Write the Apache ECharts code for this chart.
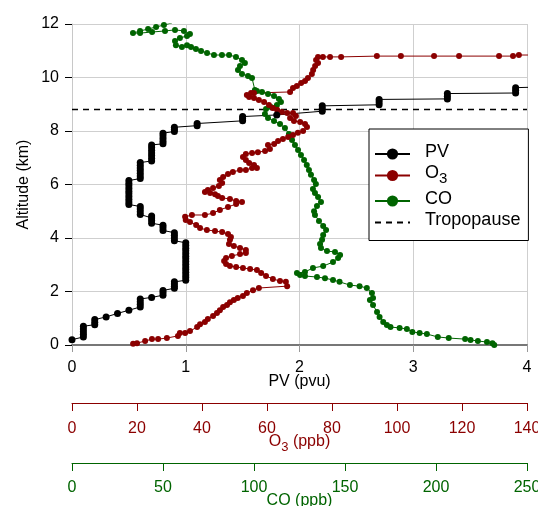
<!DOCTYPE html>
<html>
<head>
<meta charset="utf-8">
<script src="https://cdn.jsdelivr.net/npm/echarts@6/dist/echarts.min.js"></script>
<style>
  html, body { margin: 0; padding: 0; background: #fff; }
  #chart { width: 538px; height: 506px; }
</style>
</head>
<body>
<div id="chart"></div>
<script>
// [value, altitude km]
const pvProfile = [
  [0, 0.2],
  [0.1, 0.3], [0.1, 0.4], [0.1, 0.5], [0.1, 0.6], [0.1, 0.7],
  [0.2, 0.76], [0.2, 0.85], [0.2, 0.95],
  [0.3, 1.05],
  [0.4, 1.18],
  [0.5, 1.3],
  [0.6, 1.42], [0.6, 1.52], [0.6, 1.62], [0.6, 1.72],
  [0.7, 1.78],
  [0.8, 1.86], [0.8, 1.95], [0.8, 2.04],
  [0.9, 2.12], [0.9, 2.2], [0.9, 2.28], [0.9, 2.36],
  [1.0, 2.42], [1.0, 2.52], [1.0, 2.62], [1.0, 2.72], [1.0, 2.82], [1.0, 2.92], [1.0, 3.02],
  [1.0, 3.12], [1.0, 3.22], [1.0, 3.32], [1.0, 3.42], [1.0, 3.52], [1.0, 3.62], [1.0, 3.72], [1.0, 3.82],
  [0.9, 3.9], [0.9, 4.0], [0.9, 4.1], [0.9, 4.2],
  [0.8, 4.28], [0.8, 4.38], [0.8, 4.48],
  [0.7, 4.55], [0.7, 4.65], [0.7, 4.75], [0.7, 4.82],
  [0.6, 4.88], [0.6, 4.98], [0.6, 5.08], [0.6, 5.18],
  [0.5, 5.25], [0.5, 5.35], [0.5, 5.45], [0.5, 5.55], [0.5, 5.65], [0.5, 5.75], [0.5, 5.85], [0.5, 5.95], [0.5, 6.05], [0.5, 6.15],
  [0.6, 6.22], [0.6, 6.32], [0.6, 6.42], [0.6, 6.52], [0.6, 6.62], [0.6, 6.72], [0.6, 6.82],
  [0.7, 6.88], [0.7, 6.98], [0.7, 7.08], [0.7, 7.18], [0.7, 7.28], [0.7, 7.38], [0.7, 7.48],
  [0.8, 7.52], [0.8, 7.62], [0.8, 7.72], [0.8, 7.82], [0.8, 7.92],
  [0.9, 7.98], [0.9, 8.06], [0.9, 8.14],
  [1.1, 8.2], [1.1, 8.28],
  [1.5, 8.38], [1.5, 8.46], [1.5, 8.54],
  [1.8, 8.6],
  [2.2, 8.74], [2.2, 8.84], [2.2, 8.94],
  [2.7, 8.98], [2.7, 9.08], [2.7, 9.18],
  [3.3, 9.2], [3.3, 9.3], [3.3, 9.4],
  [3.9, 9.42], [3.9, 9.52], [3.9, 9.62],
  [4.6, 9.7]
];

const o3Profile = [
  [18.8, 0.05], [20, 0.07], [22.5, 0.15], [24.6, 0.22], [26.5, 0.22], [29.2, 0.26],
  [32.6, 0.34], [33.2, 0.45], [34.8, 0.45], [36.3, 0.52], [38.5, 0.67], [39.4, 0.78],
  [40.9, 0.86], [41.8, 0.97], [43.4, 1.08], [44.6, 1.2], [45.5, 1.3], [46.5, 1.42],
  [47.7, 1.5], [48.6, 1.6], [49.8, 1.68], [51, 1.76], [52.6, 1.83], [53.8, 1.94],
  [55.7, 2.05], [57.5, 2.13], [66.2, 2.2], [65.8, 2.36], [64, 2.39], [61.8, 2.47],
  [59.7, 2.58], [58.2, 2.69], [56.9, 2.8], [54.8, 2.84], [52.6, 2.88], [50.5, 2.92],
  [48.6, 2.95], [47.4, 3.03], [46.8, 3.14], [47.4, 3.25], [49.2, 3.33], [51.7, 3.4],
  [53.5, 3.44], [53.5, 3.55], [51.7, 3.63], [49.8, 3.7], [48.3, 3.78], [48.6, 3.93],
  [48.9, 4.04], [48, 4.15], [46.2, 4.22], [44, 4.26], [41.5, 4.3], [39.4, 4.37],
  [38.2, 4.49], [36.3, 4.6], [35, 4.67], [34.8, 4.79], [36.9, 4.86], [40.9, 4.86],
  [43.4, 4.93], [45.5, 5.05], [48, 5.16], [50.5, 5.27], [52.3, 5.35], [50.5, 5.38],
  [48.6, 5.46], [46.2, 5.5], [44.9, 5.57], [44, 5.64], [42.5, 5.68], [40.9, 5.72],
  [41.8, 5.79], [43.4, 5.87], [45.2, 5.94], [46.2, 6.06], [45.5, 6.17], [46.5, 6.28],
  [48, 6.39], [49.5, 6.47], [51.7, 6.54], [53.5, 6.54], [55.4, 6.62], [56.9, 6.62],
  [56, 6.73], [54.5, 6.8], [53.5, 6.92], [52.6, 7.03], [53.5, 7.14], [55.4, 7.18],
  [57.2, 7.21], [59.4, 7.25], [60.9, 7.33], [60.3, 7.48], [62.2, 7.51], [63.4, 7.63],
  [64.9, 7.7], [66.5, 7.78], [68, 7.85], [69.5, 7.93], [71.1, 8.0], [72.3, 8.15],
  [71.7, 8.26], [70.2, 8.34], [68.3, 8.37], [67.1, 8.49], [68.9, 8.56], [68, 8.67],
  [66.2, 8.67], [64.6, 8.71], [63.1, 8.79], [61.8, 8.86], [60.6, 8.97], [59.1, 9.08],
  [57.5, 9.16], [56, 9.23], [54.5, 9.27], [53.8, 9.35], [55.1, 9.42], [56, 9.42],
  [67.1, 9.46], [68, 9.61], [69.2, 9.68], [70.5, 9.79], [71.7, 9.87], [72.6, 9.98],
  [73.8, 10.13], [74.2, 10.28], [74.8, 10.43], [75.7, 10.54], [75.1, 10.65], [75.7, 10.77],
  [77.2, 10.77], [79.4, 10.77], [82.8, 10.77], [93.8, 10.8], [101.2, 10.8], [111.4, 10.8],
  [119.1, 10.8], [131.4, 10.8], [135.7, 10.8], [137.5, 10.84], [140.3, 10.84], [150, 10.88]
];

const coProfile = [
  [232, 0.0], [231, 0.07], [228, 0.11], [223, 0.15], [219, 0.19], [216, 0.22],
  [207, 0.26], [201, 0.3], [195, 0.41], [191, 0.45], [187, 0.49], [184, 0.6],
  [180, 0.64], [175, 0.67], [173, 0.75], [171, 0.86], [169, 1.05], [167.6, 1.23],
  [165.4, 1.5], [163.7, 1.68], [165.4, 1.76], [164.8, 1.94], [162, 2.13], [158, 2.2],
  [152.7, 2.24], [147, 2.36], [143.4, 2.43], [139, 2.5], [134.6, 2.54], [128, 2.58],
  [125.3, 2.62], [123.6, 2.69], [128, 2.73], [132.4, 2.88], [138, 2.95], [143.4, 3.1],
  [146.2, 3.25], [147.3, 3.36], [144.5, 3.48], [140.1, 3.51], [136.8, 3.63], [136.3, 3.78],
  [137.4, 3.93], [138, 4.11], [139.6, 4.3], [138, 4.45], [135.7, 4.64], [133.5, 4.86],
  [133, 5.0], [134.6, 5.2], [136.8, 5.35], [135.2, 5.53], [133.5, 5.68], [132.4, 5.83],
  [134, 6.02], [133, 6.17], [131.3, 6.36], [130.2, 6.54], [129, 6.73], [127.5, 6.92],
  [125.8, 7.1], [124.2, 7.29], [122.5, 7.48], [120.9, 7.66], [119.2, 7.89], [117, 8.11],
  [114.3, 8.26], [111, 8.37], [107.7, 8.49], [106, 8.64], [106.6, 8.82], [109.3, 8.9],
  [112.6, 8.97], [114.8, 9.08], [113.7, 9.2], [111, 9.31], [107.7, 9.38], [104.4, 9.46],
  [101.6, 9.5], [100.5, 9.53], [98.9, 9.98], [96.7, 10.06], [93.4, 10.13], [91.2, 10.28],
  [92.3, 10.43], [95, 10.54], [93.4, 10.65], [90.1, 10.77], [86.3, 10.84], [82.4, 10.84],
  [78, 10.84], [74.2, 10.92], [70.9, 10.99], [68.1, 11.07], [65.4, 11.14], [63.2, 11.21],
  [60.4, 11.14], [57.1, 11.21], [56.6, 11.36], [59.3, 11.48], [63.2, 11.55], [64.8, 11.63],
  [61.5, 11.74], [56.6, 11.78], [51.1, 11.74], [44, 11.7], [37.4, 11.66], [33.5, 11.66],
  [37.4, 11.74], [41.8, 11.81], [46.2, 11.89], [50.5, 11.96], [54.9, 12.04], [48.4, 12.07]
];

const tropopauseAlt = 8.8;
const pvTicks = [0, 4, 1];      // min, max, step
const o3Ticks = [0, 140, 20];
const coTicks = [0, 250, 50];
const altTicks = [0, 12, 2];

const RED = '#8b0000';
const GREEN = '#006400';
const FONT = 'Liberation Sans, Arial, sans-serif';

const chart = echarts.init(document.getElementById('chart'));

// O3 with a real subscript 3
function subRich(color, size) {
  return {
    a: { fontSize: size, color: color, fontFamily: FONT, lineHeight: size + 4, verticalAlign: 'top' },
    b: { fontSize: size - 3, color: color, fontFamily: FONT, lineHeight: size - 2, padding: [7, 0, 0, 0], verticalAlign: 'bottom' }
  };
}

const option = {
  animation: false,
  textStyle: { fontFamily: FONT },
  grid: { left: 72, right: 11, top: 24, bottom: 161, containLabel: false, outerBoundsMode: 'none' },
  legend: {
    orient: 'vertical',
    left: 369,
    top: 129,
    padding: [14, 8, 11, 5],
    itemWidth: 35,
    itemHeight: 14,
    itemGap: 3.5,
    borderColor: '#000',
    borderWidth: 1,
    borderRadius: 0,
    backgroundColor: '#fff',
    data: ['PV', 'O3', 'CO', { name: 'Tropopause', itemStyle: { opacity: 0 } }],
    formatter: function (name) {
      if (name === 'O3') return '{a|O}{b|3}';
      return '{a|' + name + '}';
    },
    textStyle: {
      fontSize: 18,
      color: '#000',
      padding: [0, 0, 0, 10],
      rich: subRich('#000', 18)
    }
  },
  xAxis: [
    {
      type: 'value', position: 'bottom',
      min: pvTicks[0], max: pvTicks[1], interval: pvTicks[2],
      name: 'PV (pvu)', nameLocation: 'middle', nameGap: 29, nameMoveOverlap: false,
      nameTextStyle: { fontSize: 16, color: '#000' },
      axisLine: { show: true, lineStyle: { color: '#777', width: 2 } },
      axisTick: { show: true, length: 7, lineStyle: { color: '#999' } },
      axisLabel: { fontSize: 16, color: '#000', margin: 15 },
      splitLine: { show: true, lineStyle: { color: '#cfcfcf', width: 1 } }
    },
    {
      type: 'value', position: 'bottom', offset: 58,
      min: o3Ticks[0], max: o3Ticks[1], interval: o3Ticks[2],
      name: '{a|O}{b|3}{a| (ppb)}', nameLocation: 'middle', nameGap: 31, nameMoveOverlap: false,
      nameTextStyle: { rich: subRich(RED, 16) },
      axisLine: { show: true, onZero: false, lineStyle: { color: RED, width: 1 } },
      axisTick: { show: true, length: 8, lineStyle: { color: RED } },
      axisLabel: { fontSize: 16, color: RED, margin: 18 },
      splitLine: { show: false }
    },
    {
      type: 'value', position: 'bottom', offset: 118,
      min: coTicks[0], max: coTicks[1], interval: coTicks[2],
      name: 'CO (ppb)', nameLocation: 'middle', nameGap: 30, nameMoveOverlap: false,
      nameTextStyle: { fontSize: 16, color: GREEN },
      axisLine: { show: true, onZero: false, lineStyle: { color: GREEN, width: 1 } },
      axisTick: { show: true, length: 8, lineStyle: { color: GREEN } },
      axisLabel: { fontSize: 16, color: GREEN, margin: 17 },
      splitLine: { show: false }
    }
  ],
  yAxis: {
    type: 'value',
    min: altTicks[0], max: altTicks[1], interval: altTicks[2],
    name: 'Altitude (km)', nameLocation: 'middle', nameGap: 40, nameRotate: 90, nameMoveOverlap: false,
    nameTextStyle: { fontSize: 16, color: '#000' },
    axisLine: { show: true, lineStyle: { color: '#c8c8c8' } },
    axisTick: { show: true, length: 7, lineStyle: { color: '#000' } },
    axisLabel: { fontSize: 16, color: '#000', margin: 13 },
    splitLine: { show: true, lineStyle: { color: '#cfcfcf', width: 1 } }
  },
  series: [
    {
      name: 'CO', type: 'line', xAxisIndex: 2, data: coProfile,
      symbol: 'circle', symbolSize: 6, showSymbol: true,
      itemStyle: { color: GREEN },
      lineStyle: { color: GREEN, width: 1 }
    },
    {
      name: 'O3', type: 'line', xAxisIndex: 1, data: o3Profile,
      symbol: 'circle', symbolSize: 6, showSymbol: true,
      itemStyle: { color: RED },
      lineStyle: { color: RED, width: 1 }
    },
    {
      name: 'PV', type: 'line', xAxisIndex: 0, data: pvProfile,
      symbol: 'circle', symbolSize: 7, showSymbol: true,
      itemStyle: { color: '#000' },
      lineStyle: { color: '#000', width: 1 }
    },
    {
      name: 'Tropopause', type: 'line', xAxisIndex: 0,
      data: [[pvTicks[0], tropopauseAlt], [pvTicks[1], tropopauseAlt]],
      symbol: 'none',
      itemStyle: { color: '#000' },
      lineStyle: { color: '#000', width: 1.5, type: [6, 5] }
    }
  ]
};

chart.setOption(option);
</script>
</body>
</html>
